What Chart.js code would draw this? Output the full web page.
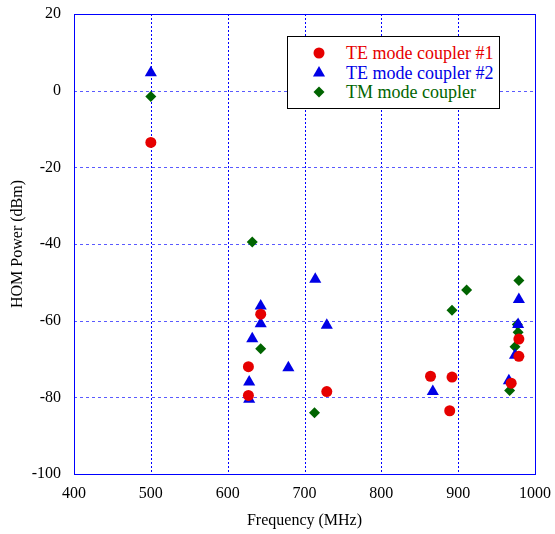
<!DOCTYPE html>
<html>
<head>
<meta charset="utf-8">
<script src="https://cdn.jsdelivr.net/npm/chart.js@4.4.0/dist/chart.umd.min.js"></script>
<style>
  html, body { margin: 0; padding: 0; background: #fff; }
  #wrap { position: relative; width: 555px; height: 534px; }
  #legend {
    position: absolute; left: 287px; top: 36px; width: 211px; height: 71px;
    border: 1px solid #000; background: #fff;
    font-family: "Liberation Serif", "Times New Roman", serif; font-size: 18px;
  }
  .row { position: absolute; left: 0; height: 20px; line-height: 20px; white-space: nowrap; }
  .row span { position: absolute; left: 58px; }
  .row canvas { position: absolute; left: 23px; top: 3px; }
</style>
</head>
<body>
<div id="wrap">
  <canvas id="chart" width="555" height="534"></canvas>
  <div id="legend">
    <div class="row" style="top:6px;color:#e60000"><canvas id="m1" width="16" height="14"></canvas><span>TE mode coupler #1</span></div>
    <div class="row" style="top:26px;color:#0000e6"><canvas id="m2" width="16" height="14"></canvas><span>TE mode coupler #2</span></div>
    <div class="row" style="top:45px;color:#006400"><canvas id="m3" width="16" height="14"></canvas><span>TM mode coupler</span></div>
  </div>
</div>
<script>
// series (frequency MHz, power dBm)
const te1Freq = [500, 627, 627, 643, 729, 864, 892, 889, 969, 979, 979];
const te1Power = [-13.5, -72, -79.5, -58.3, -78.5, -74.5, -74.7, -83.5, -76.3, -64.8, -69.3];

const te2Freq = [500, 628, 628, 632, 643, 643, 679, 714, 729, 867, 966, 974, 978, 979];
const te2Power = [4.7, -76, -80.5, -64.7, -56.2, -60.8, -72.3, -49.2, -61.2, -78.5, -75.7, -69, -61, -54.5];

const tmFreq = [500, 632, 643, 713, 892, 911, 967, 974, 977, 978, 979];
const tmPower = [-1.5, -39.5, -67.3, -84, -57.3, -52, -78.2, -66.8, -61, -63, -49.5];

const xTicks = [400, 500, 600, 700, 800, 900, 1000];
const yTicks = [-100, -80, -60, -40, -20, 0, 20];

const RED = "#e60000", BLUE = "#0000e6", GREEN = "#006400";
const FONT = "'Liberation Serif', 'Times New Roman', serif";

function toPoints(xs, ys) {
  return xs.map((x, i) => ({ x: x, y: ys[i] }));
}

// dotted grid + solid frame
const frame = {
  id: "frame",
  beforeDatasetsDraw(chart) {
    const a = chart.chartArea, c = chart.ctx;
    const sx = chart.scales.x, sy = chart.scales.y;
    c.save();
    c.lineWidth = 1;
    c.strokeStyle = "#0000ff";
    c.setLineDash([2, 2]);
    xTicks.forEach(v => {
      const px = Math.round(sx.getPixelForValue(v)) + 0.5;
      c.beginPath(); c.moveTo(px, a.top); c.lineTo(px, a.bottom); c.stroke();
    });
    c.strokeStyle = "#5a5aff";
    c.setLineDash([3, 3]);
    yTicks.forEach(v => {
      const py = Math.round(sy.getPixelForValue(v)) + 0.5;
      c.beginPath(); c.moveTo(a.left, py); c.lineTo(a.right, py); c.stroke();
    });
    c.restore();
  },
  afterDraw(chart) {
    const a = chart.chartArea, c = chart.ctx;
    c.save();
    c.strokeStyle = "#0000ff";
    c.lineWidth = 1;
    c.strokeRect(Math.round(a.left) + 0.5, Math.round(a.top) + 0.5,
                 Math.round(a.right - a.left), Math.round(a.bottom - a.top));
    c.restore();
  }
};

new Chart(document.getElementById("chart"), {
  type: "scatter",
  data: {
    datasets: [
      { label: "TE mode coupler #1", data: toPoints(te1Freq, te1Power), pointStyle: "circle",
        pointRadius: 5.5, backgroundColor: RED, borderColor: RED, borderWidth: 0 },
      { label: "TE mode coupler #2", data: toPoints(te2Freq, te2Power), pointStyle: "triangle",
        pointRadius: 7, backgroundColor: BLUE, borderColor: BLUE, borderWidth: 0 },
      { label: "TM mode coupler", data: toPoints(tmFreq, tmPower), pointStyle: "rectRot",
        pointRadius: 5.5, backgroundColor: GREEN, borderColor: GREEN, borderWidth: 0 }
    ]
  },
  options: {
    responsive: false,
    animation: false,
    layout: { padding: { top: 14, right: 20, left: 4, bottom: 0 } },
    plugins: { legend: { display: false }, tooltip: { enabled: false } },
    scales: {
      x: {
        type: "linear", min: 400, max: 1000,
        afterBuildTicks: s => { s.ticks = xTicks.map(v => ({ value: v })); },
        afterFit: s => { s.height = 60; s.paddingLeft = 0; s.paddingRight = 0; },
        grid: { display: false, drawTicks: false },
        border: { display: false },
        ticks: { color: "#000", padding: 10, font: { family: FONT, size: 16 },
                 callback: v => String(v) },
        title: { display: true, text: "Frequency (MHz)", color: "#000", padding: { top: 0 },
                 font: { family: FONT, size: 16 } }
      },
      y: {
        type: "linear", min: -100, max: 20,
        afterBuildTicks: s => { s.ticks = yTicks.map(v => ({ value: v })); },
        afterFit: s => { s.width = 70; s.paddingTop = 0; s.paddingBottom = 0; },
        grid: { display: false, drawTicks: false },
        border: { display: false },
        ticks: { color: "#000", padding: 13, font: { family: FONT, size: 16 },
                 callback: v => String(v) },
        title: { display: true, text: "HOM Power (dBm)", color: "#000", padding: { bottom: 4 },
                 font: { family: FONT, size: 16 } }
      }
    }
  },
  plugins: [frame]
});

// legend markers
function drawMarker(id, style, color, r) {
  const c = document.getElementById(id).getContext("2d");
  c.fillStyle = color;
  c.strokeStyle = color;
  Chart.helpers.drawPoint(c, { pointStyle: style, radius: r, borderWidth: 0 }, 8, 7);
}
drawMarker("m1", "circle", RED, 5.5);
drawMarker("m2", "triangle", BLUE, 7);
drawMarker("m3", "rectRot", GREEN, 5.5);
</script>
</body>
</html>
